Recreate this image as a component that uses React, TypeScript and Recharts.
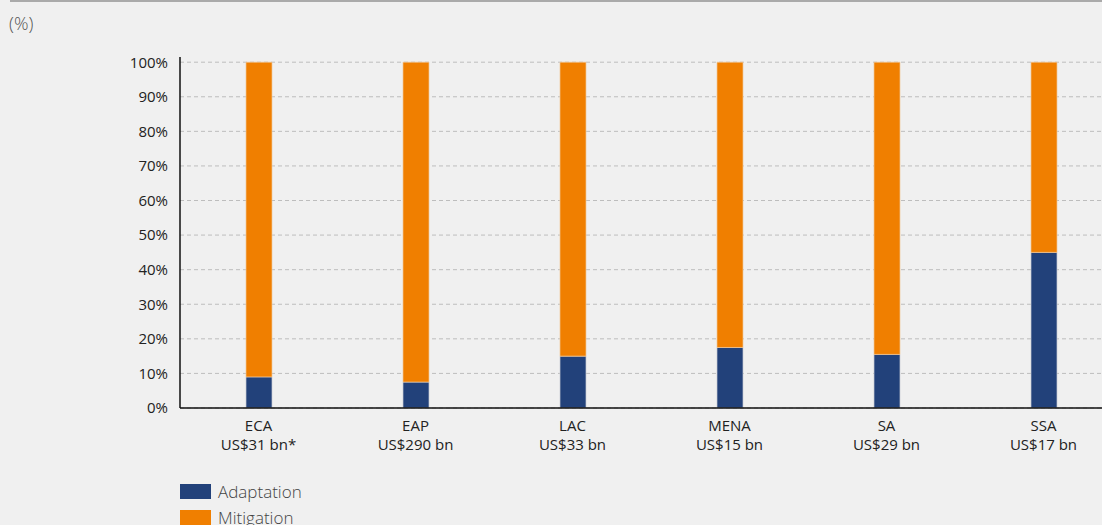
import { BarChart, Bar, XAxis, YAxis, CartesianGrid } from 'recharts';

const regions = ['ECA', 'EAP', 'LAC', 'MENA', 'SA', 'SSA'];
const totals = ['US$31 bn*', 'US$290 bn', 'US$33 bn', 'US$15 bn', 'US$29 bn', 'US$17 bn'];
const adaptation = [9, 7.5, 15, 17.5, 15.5, 45];
const mitigation = [91, 92.5, 85, 82.5, 84.5, 55];
const yTicks = [0, 10, 20, 30, 40, 50, 60, 70, 80, 90, 100];

const BLUE = '#22417a';
const ORANGE = '#f07f00';
const FONT = '"Open Sans", "Lato", sans-serif';

const data = regions.map((region, i) => ({
  region,
  total: totals[i],
  adaptation: adaptation[i],
  mitigation: mitigation[i],
}));

const RegionTick = (props: any) => {
  const { x, y, payload, index } = props;
  return (
    <text x={x} y={y} textAnchor="middle" fill="#222" fontSize={15} fontFamily={FONT}>
      <tspan x={x} dy={15}>{payload.value}</tspan>
      <tspan x={x} dy={19}>{totals[index]}</tspan>
    </text>
  );
};

const legendItems = [
  { label: 'Adaptation', color: BLUE },
  { label: 'Mitigation', color: ORANGE },
];

export default function App() {
  return (
    <div style={{ position: 'relative', width: 1102, height: 525, overflow: 'hidden', background: '#f0f0f0' }}>
      <style>{'body{margin:0;background:#f0f0f0}'}</style>
      <div style={{ position: 'absolute', left: 10, right: 0, top: 0, height: 2, background: '#aaa' }} />
      <div style={{ position: 'absolute', left: 9, top: 11, fontFamily: FONT, fontSize: 18, color: '#555', fontWeight: 300 }}>(%)</div>
      <BarChart
        width={1122}
        height={525}
        data={data}
        barSize={26}
        margin={{ top: 57, right: 0, bottom: 0, left: 0 }}
      >
        <CartesianGrid vertical={false} horizontalValues={yTicks} stroke="#bdbdbd" strokeDasharray="4 3" />
        <XAxis
          dataKey="region"
          tick={<RegionTick />}
          tickLine={false}
          axisLine={{ stroke: '#111', strokeWidth: 1.5 }}
          interval={0}
          height={117}
        />
        <YAxis
          domain={[0, 101.5]}
          ticks={yTicks}
          allowDataOverflow
          tickFormatter={(v: number) => `${v}%`}
          tickLine={false}
          tickSize={0}
          tickMargin={12}
          width={180}
          axisLine={{ stroke: '#111', strokeWidth: 1.5 }}
          tick={{ fill: '#222', fontSize: 15, fontFamily: FONT }}
        />
        <Bar dataKey="adaptation" stackId="a" fill={BLUE} stroke="#c8ccd4" strokeWidth={0.7} isAnimationActive={false} />
        <Bar dataKey="mitigation" stackId="a" fill={ORANGE} stroke="#f0c89a" strokeWidth={0.7} isAnimationActive={false} />
      </BarChart>
      <div style={{ position: 'absolute', left: 180, top: 478, fontFamily: FONT, fontSize: 17, color: '#444', fontWeight: 300 }}>
        {legendItems.map((item) => (
          <div key={item.label} style={{ display: 'flex', alignItems: 'center', height: 26 }}>
            <span style={{ width: 31, height: 15, background: item.color, marginRight: 7 }} />
            <span>{item.label}</span>
          </div>
        ))}
      </div>
    </div>
  );
}
